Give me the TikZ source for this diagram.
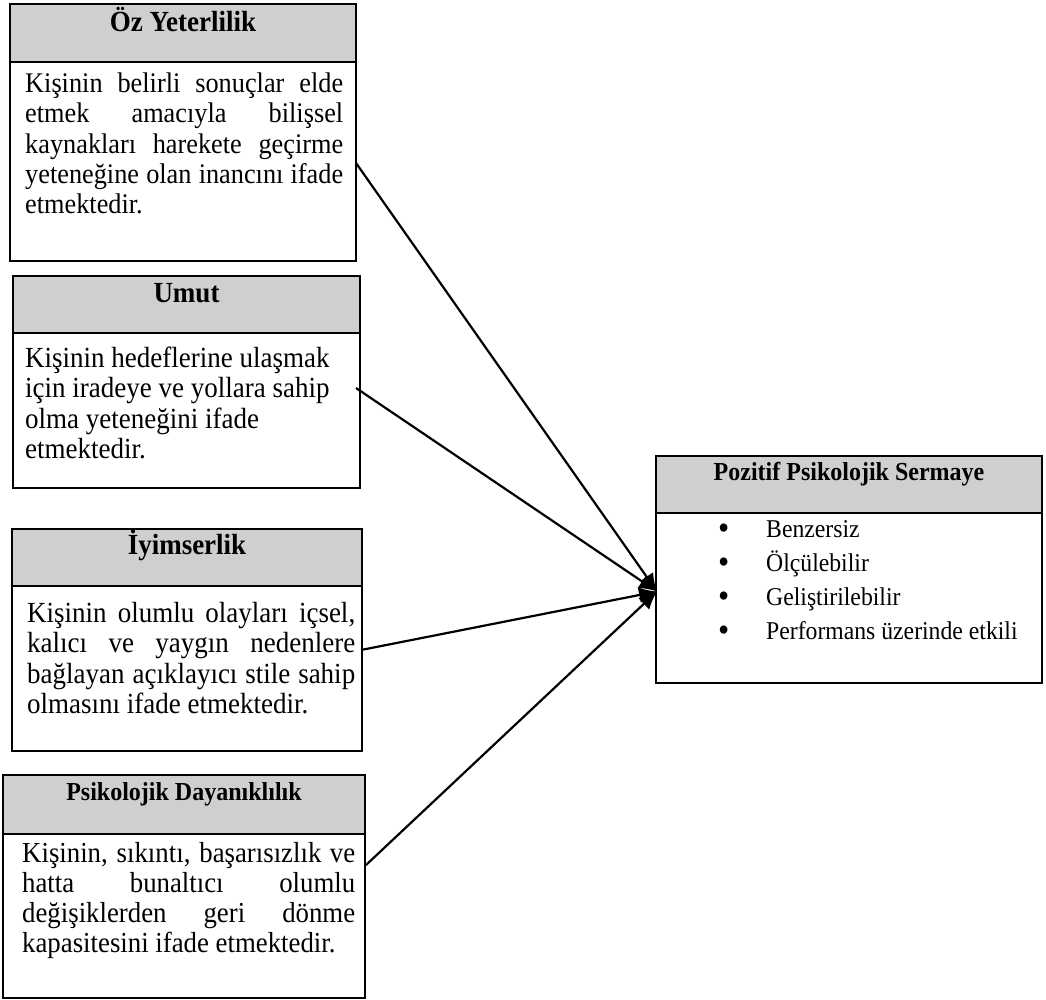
\documentclass[tikz,border=0pt]{standalone}
\usepackage{fontspec}
\usepackage{graphicx}
\setmainfont{Liberation Serif}
\usetikzlibrary{arrows.meta,calc}
\definecolor{hdrgray}{RGB}{208,206,206}
% one justified line of a given width, and a plain last line
\newcommand\jline[2]{\makebox[#1][s]{#2}}
\newcommand\lline[2]{\makebox[#1][l]{#2}}
% slightly tall lettering
\newcommand\tall[1]{\scalebox{1}[1.08]{#1}}
\newcommand\bul{\makebox[48pt][l]{\raisebox{-2.5pt}{\fontsize{32}{32}\selectfont•}}}
\begin{document}
\begin{tikzpicture}[x=1pt,y=-1pt,
  frame/.style={draw=black,line width=2.6pt,inner sep=0pt,outer sep=0pt,anchor=north west},
  hdrbox/.style={frame,fill=hdrgray},
  htext/.style={anchor=base,inner sep=0pt,font=\fontsize{27}{30}\selectfont\bfseries},
  hsmall/.style={htext,font=\fontsize{24}{28}\selectfont\bfseries},
  btext/.style={anchor=base west,inner sep=0pt},
  link/.style={line width=2.2pt,-{Latex[length=18pt,width=16pt]}}]
\useasboundingbox (0,0) rectangle (1046,999);

% --- Öz Yeterlilik ---
\node[hdrbox,minimum width=346,minimum height=58] (h1) at (10,4) {};
\node[frame,minimum width=346,minimum height=199] (b1) at (10,62) {};
\node[htext] (t1) at ($(h1.north)+(0,27.5)$) {\tall{Öz Yeterlilik}};
\node[btext] (x1) at (25,92) {\tall{\parbox[t]{318pt}{\fontsize{26.3}{28.24}\selectfont
  \jline{318pt}{Kişinin belirli sonuçlar elde}\\
  \jline{318pt}{etmek amacıyla bilişsel}\\
  \jline{318pt}{kaynakları harekete geçirme}\\
  \jline{318pt}{yeteneğine olan inancını ifade}\\
  \lline{318pt}{etmektedir.}}}};

% --- Umut ---
\node[hdrbox,minimum width=347,minimum height=57] (h2) at (13,276) {};
\node[frame,minimum width=347,minimum height=155] (b2) at (13,333) {};
\node[htext] (t2) at ($(h2.north)+(0,26.5)$) {\tall{Umut}};
\node[btext] (x2) at (25,367) {\tall{\parbox[t]{330pt}{\fontsize{27}{28.24}\selectfont
  Kişinin hedeflerine ulaşmak\\
  için iradeye ve yollara sahip\\
  olma yeteneğini ifade\\
  etmektedir.}}};

% --- İyimserlik ---
\node[hdrbox,minimum width=350,minimum height=57] (h3) at (12,529) {};
\node[frame,minimum width=350,minimum height=165] (b3) at (12,586) {};
\node[htext] (t3) at ($(h3.north)+(0,25.5)$) {\tall{İyimserlik}};
\node[btext] (x3) at (27,622) {\tall{\parbox[t]{328pt}{\fontsize{27}{28.24}\selectfont
  \jline{328pt}{Kişinin olumlu olayları içsel,}\\
  \jline{328pt}{kalıcı ve yaygın nedenlere}\\
  \jline{328pt}{bağlayan açıklayıcı stile sahip}\\
  \lline{328pt}{olmasını ifade etmektedir.}}}};

% --- Psikolojik Dayanıklılık ---
\node[hdrbox,minimum width=362,minimum height=59] (h4) at (3,775) {};
\node[frame,minimum width=362,minimum height=164] (b4) at (3,834) {};
\node[hsmall] (t4) at ($(h4.north)+(0,25)$) {\tall{Psikolojik Dayanıklılık}};
\node[btext] (x4) at (22,862) {\tall{\parbox[t]{333pt}{\fontsize{26.8}{27.8}\selectfont
  \jline{333pt}{Kişinin, sıkıntı, başarısızlık ve}\\
  \jline{333pt}{hatta bunaltıcı olumlu}\\
  \jline{333pt}{değişiklerden geri dönme}\\
  \lline{333pt}{kapasitesini ifade etmektedir.}}}};

% --- Pozitif Psikolojik Sermaye ---
\node[hdrbox,minimum width=386,minimum height=57] (h5) at (656,456) {};
\node[frame,minimum width=386,minimum height=170] (b5) at (656,513) {};
\node[hsmall] (t5) at ($(h5.north)+(0,24)$) {\tall{Pozitif Psikolojik Sermaye}};
\node[btext] (x5) at (718,537) {\tall{\parbox[t]{320pt}{\fontsize{23.7}{31.5}\selectfont
  \bul Benzersiz\\
  \bul Ölçülebilir\\
  \bul Geliştirilebilir\\
  \bul Performans üzerinde etkili}}};

% --- connectors ---
\coordinate (s1) at ($(b1.east)+(0,1.5)$);
\coordinate (s2) at (356,388);
\coordinate (s3) at (361,650);
\coordinate (s4) at ($(b4.north east)+(1,31)$);
\coordinate (hub) at ($(b5.west)+(1,-6.5)$);
\draw[link] (s1) -- (hub);
\draw[link] (s2) -- (hub);
\draw[link] (s3) -- (hub);
\draw[link] (s4) -- (hub);
\end{tikzpicture}
\end{document}
